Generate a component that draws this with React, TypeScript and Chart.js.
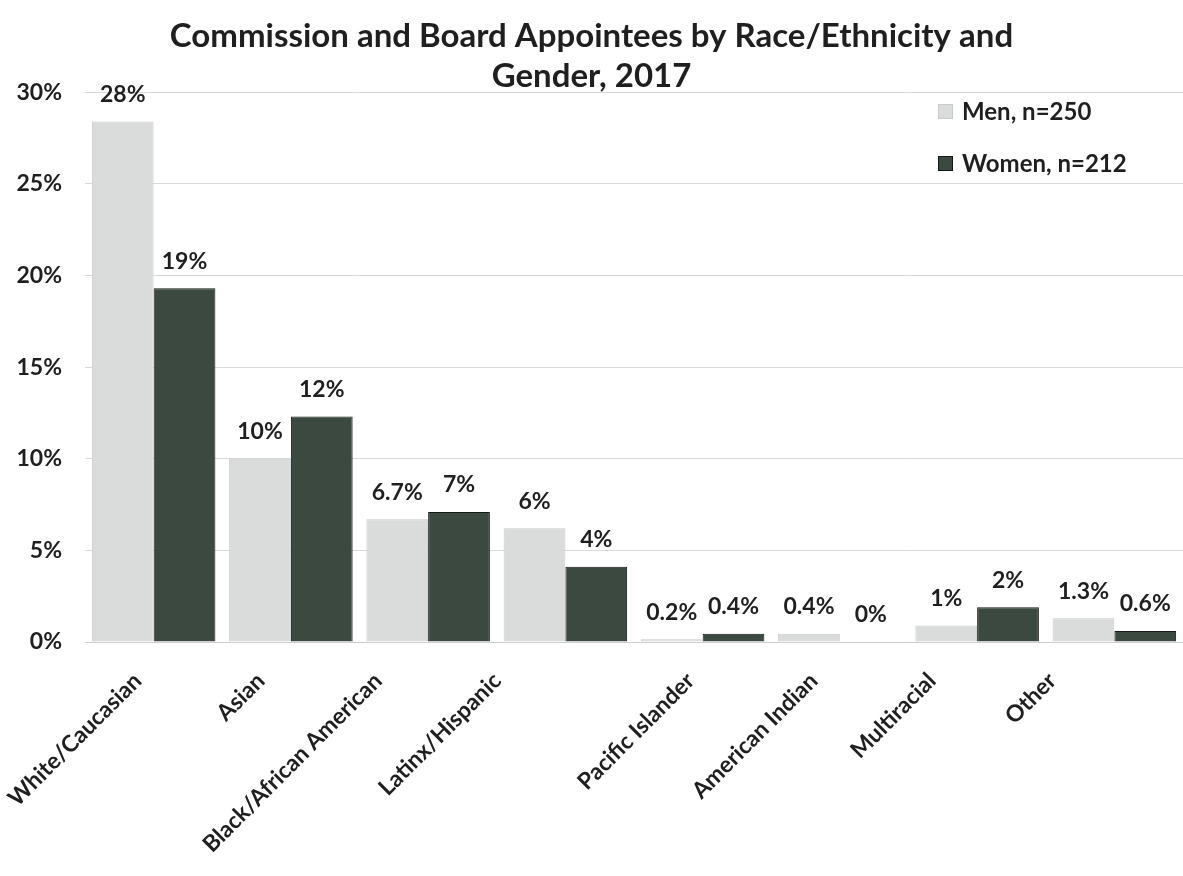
import React, { useEffect, useRef } from "react";
import { Chart, registerables } from "chart.js";

Chart.register(...registerables);

const titleLines = [
  "Commission and Board Appointees by Race/Ethnicity and",
  "Gender, 2017",
];
const categories = [
  "White/Caucasian",
  "Asian",
  "Black/African American",
  "Latinx/Hispanic",
  "Pacific Islander",
  "American Indian",
  "Multiracial",
  "Other",
];
const seriesNames = ["Men, n=250", "Women, n=212"];
const menValues = [28.4, 10.0, 6.7, 6.2, 0.15, 0.45, 0.9, 1.3];
const womenValues = [19.3, 12.3, 7.1, 4.1, 0.45, 0, 1.9, 0.6];
const menLabels = ["28%", "10%", "6.7%", "6%", "0.2%", "0.4%", "1%", "1.3%"];
const womenLabels = ["19%", "12%", "7%", "4%", "0.4%", "0%", "2%", "0.6%"];
const yTicks = [0, 5, 10, 15, 20, 25, 30];

// layout: horizontal shift (px) of each rotated category label end from its tick
const xLabelShift = [-20, -34, -54, -72, -16, -30, -49, -66];

const FONT = "Lato, 'Open Sans', 'DejaVu Sans', sans-serif";
const TEXT = "#1f1f1f";
const MEN_FILL = "#d9dcda";
const MEN_BORDER = "#c9ccca";
const WOMEN_FILL = "#3b4940";
const WOMEN_BORDER = "#151a16";

const dataLabelPlugin = {
  id: "dataLabels",
  afterDatasetsDraw(chart: any) {
    const ctx = chart.ctx;
    const labelSets = [menLabels, womenLabels];
    ctx.save();
    ctx.font = `bold 23px ${FONT}`;
    ctx.fillStyle = TEXT;
    ctx.textAlign = "center";
    ctx.textBaseline = "middle";
    chart.data.datasets.forEach((_ds: any, di: number) => {
      const meta = chart.getDatasetMeta(di);
      meta.data.forEach((el: any, i: number) => {
        ctx.fillText(labelSets[di][i], el.x, el.y - 27);
      });
    });
    ctx.restore();
  },
};

const xLabelPlugin = {
  id: "xLabels",
  afterDraw(chart: any) {
    const xs = chart.scales.x;
    const ctx = chart.ctx;
    ctx.save();
    ctx.font = `bold 23px ${FONT}`;
    ctx.fillStyle = TEXT;
    ctx.textAlign = "right";
    ctx.textBaseline = "middle";
    categories.forEach((c, i) => {
      const x = xs.getPixelForTick(i) + xLabelShift[i] + 4;
      const y = xs.top + 35;
      ctx.save();
      ctx.translate(x, y);
      ctx.rotate(-Math.PI / 4);
      ctx.fillText(c, 0, 0);
      ctx.restore();
    });
    ctx.restore();
  },
};

const legendPlugin = {
  id: "customLegend",
  afterDraw(chart: any) {
    const ctx = chart.ctx;
    const items = [
      { text: seriesNames[0], fill: MEN_FILL, border: MEN_BORDER, y: 112 },
      { text: seriesNames[1], fill: WOMEN_FILL, border: WOMEN_BORDER, y: 164 },
    ];
    ctx.save();
    ctx.font = `bold 24px ${FONT}`;
    ctx.textBaseline = "middle";
    ctx.textAlign = "left";
    items.forEach((it) => {
      ctx.fillStyle = it.fill;
      ctx.fillRect(938, it.y - 8, 15, 15);
      ctx.strokeStyle = it.border;
      ctx.lineWidth = 1;
      ctx.strokeRect(938.5, it.y - 7.5, 14, 14);
      ctx.fillStyle = TEXT;
      ctx.fillText(it.text, 962, it.y);
    });
    ctx.restore();
  },
};

export default function App() {
  const canvasRef = useRef<HTMLCanvasElement | null>(null);

  useEffect(() => {
    if (!canvasRef.current) return;
    const chart = new Chart(canvasRef.current, {
      type: "bar",
      data: {
        labels: categories,
        datasets: [
          {
            label: seriesNames[0],
            data: menValues,
            backgroundColor: MEN_FILL,
            borderColor: MEN_BORDER,
            borderWidth: 1,
            barPercentage: 1,
            categoryPercentage: 0.9,
          },
          {
            label: seriesNames[1],
            data: womenValues,
            backgroundColor: WOMEN_FILL,
            borderColor: WOMEN_BORDER,
            borderWidth: 1,
            barPercentage: 1,
            categoryPercentage: 0.9,
          },
        ],
      },
      options: {
        responsive: false,
        animation: false,
        devicePixelRatio: 1,
        layout: { padding: { left: 0, right: 0, top: 0, bottom: 0 } },
        plugins: {
          legend: { display: false },
          tooltip: { enabled: false },
          title: {
            display: true,
            text: titleLines,
            color: TEXT,
            font: { family: FONT, size: 33, weight: "bold", lineHeight: 1.2 },
            padding: { top: 17, bottom: -4 },
          },
        },
        scales: {
          x: {
            grid: { display: false, drawTicks: false },
            border: { display: true, color: "#cfcfcf" },
            ticks: { display: false },
            afterFit: (scale: any) => {
              scale.height = 234;
            },
          },
          y: {
            min: 0,
            max: 30,
            grid: { color: "#d9d9d9", drawTicks: false },
            border: { display: false },
            ticks: {
              padding: 23,
              color: TEXT,
              font: { family: FONT, size: 23, weight: "bold" },
              callback: (v: any) => `${v}%`,
            },
            afterBuildTicks: (scale: any) => {
              scale.ticks = yTicks.map((v) => ({ value: v }));
            },
            afterFit: (scale: any) => {
              scale.width = 85;
            },
          },
        },
      },
      plugins: [dataLabelPlugin, xLabelPlugin, legendPlugin],
    } as any);
    return () => chart.destroy();
  }, []);

  return (
    <div style={{ position: "fixed", left: 0, top: 0, width: 1183, height: 876, background: "#fff" }}>
      <canvas ref={canvasRef} width={1183} height={876} style={{ display: "block" }} />
    </div>
  );
}
